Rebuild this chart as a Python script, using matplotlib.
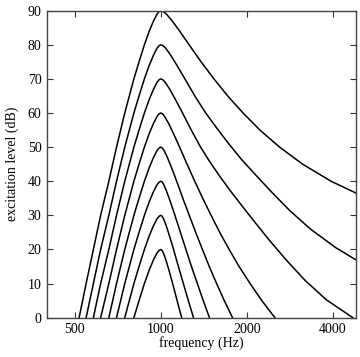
import matplotlib
matplotlib.use("Agg")
import matplotlib.pyplot as plt
from matplotlib.ticker import FixedLocator, NullLocator, FixedFormatter

# Excitation patterns for a 1000-Hz tone at levels 20..90 dB
freq_90 = [518, 548, 581, 616, 658, 700, 748, 805, 839, 876, 911, 943, 970, 986, 1000,
           1020, 1046, 1096, 1164, 1256, 1383, 1534, 1713, 1939, 2221, 2602, 3131, 3938, 5262]
level_90 = [0, 10, 20, 30, 40, 50, 60, 70, 75, 80, 84, 87, 89, 89.75, 90,
            89.75, 89, 87, 84, 80, 75, 70, 65, 60, 55, 50, 45, 40, 35]

freq_80 = [548, 581, 616, 658, 700, 748, 805, 839, 876, 911, 943, 970, 986, 1000,
           1018, 1040, 1082, 1138, 1214, 1315, 1430, 1562, 1720, 1905, 2137, 2429, 2815, 3333, 4093, 5262]
level_80 = [0, 10, 20, 30, 40, 50, 60, 65, 70, 74, 77, 79, 79.75, 80,
            79.75, 79, 77, 74, 70, 65, 60.2, 55.8, 51.2, 46.6, 42, 37, 31.5, 26, 20.5, 15]

freq_70 = [581, 616, 658, 700, 748, 805, 839, 876, 911, 943, 970, 986, 1000,
           1016, 1036, 1074, 1124, 1191, 1278, 1377, 1486, 1615, 1761, 1938, 2150, 2418, 2752, 3197, 3797, 4691]
level_70 = [0, 10, 20, 30, 40, 50, 55, 60, 64, 67, 69, 69.75, 70,
            69.75, 69, 67, 64, 60, 55, 50, 45.6, 41.2, 36.9, 32.4, 27.6, 22.3, 16.8, 10.9, 5.2, 0]

freq_60 = [616, 658, 700, 748, 805, 839, 876, 911, 943, 970, 986, 1000,
           1014, 1031, 1064, 1107, 1163, 1235, 1314, 1401, 1499, 1607, 1733, 1878, 2052, 2255, 2505]
level_60 = [0, 10, 20, 30, 40, 45, 50, 54, 57, 59, 59.75, 60,
            59.75, 59, 57, 54, 50, 45, 40, 35, 30, 25, 20, 15, 10, 5, 0]

freq_50 = [658, 700, 748, 805, 839, 876, 911, 943, 970, 986, 1000,
           1012, 1027, 1054, 1090, 1136, 1194, 1257, 1324, 1398, 1477, 1567, 1667, 1781]
level_50 = [0, 10, 20, 30, 35, 40, 44, 47, 49, 49.75, 50,
            49.75, 49, 47, 44, 40, 35, 30, 25, 20, 15, 10, 5, 0]

freq_40 = [700, 748, 805, 839, 876, 911, 943, 970, 986, 1000,
           1011, 1024, 1048, 1080, 1120, 1171, 1224, 1280, 1342, 1407, 1479]
level_40 = [0, 10, 20, 25, 30, 34, 37, 39, 39.75, 40,
            39.75, 39, 37, 34, 30, 25, 20, 15, 10, 5, 0]

freq_30 = [748, 776, 805, 839, 876, 911, 943, 970, 986, 1000,
           1010, 1022, 1044, 1072, 1108, 1152, 1199, 1248, 1301]
level_30 = [0, 5, 10, 15, 20, 24, 27, 29, 29.75, 30,
            29.75, 29, 27, 24, 20, 15, 10, 5, 0]

freq_20 = [805, 839, 876, 911, 943, 970, 986, 1000,
           1009, 1020, 1041, 1067, 1100, 1140, 1183]
level_20 = [0, 5, 10, 14, 17, 19, 19.75, 20,
            19.75, 19, 17, 14, 10, 5, 0]

x_ticks = [500, 1000, 2000, 4000]
x_tick_labels = ["500", "1000", "2000", "4000"]
y_ticks = [0, 10, 20, 30, 40, 50, 60, 70, 80, 90]

curves = [(freq_90, level_90), (freq_80, level_80), (freq_70, level_70), (freq_60, level_60),
          (freq_50, level_50), (freq_40, level_40), (freq_30, level_30), (freq_20, level_20)]

plt.rcParams['font.family'] = ['Liberation Serif', 'DejaVu Serif']
plt.rcParams['font.size'] = 10

fig = plt.figure(figsize=(3.6, 3.57), dpi=100)
ax = fig.add_axes([47/360, 1 - 317.7/357, (355.7 - 47)/360, (317.7 - 10.7)/357])

for f, l in curves:
    ax.plot(f, l, color='black', lw=1.1, solid_joinstyle='round')

ax.set_xscale('log')
ax.set_xlim(400, 4800)
ax.set_ylim(0, 90)
ax.xaxis.set_major_locator(FixedLocator(x_ticks))
ax.xaxis.set_major_formatter(FixedFormatter(x_tick_labels))
ax.xaxis.set_minor_locator(NullLocator())
ax.set_yticks(y_ticks)
ax.tick_params(direction='in', top=True, right=True, length=4, width=0.8,
               labelsize=10, pad=4, color='#333333')
for s in ax.spines.values():
    s.set_color('#444444')
    s.set_linewidth(1.0)

ax.set_xlabel('frequency (Hz)', fontsize=10, labelpad=0)
ax.set_ylabel('excitation level (dB)', fontsize=10, labelpad=6)

fig.savefig('out.png', dpi=100)
